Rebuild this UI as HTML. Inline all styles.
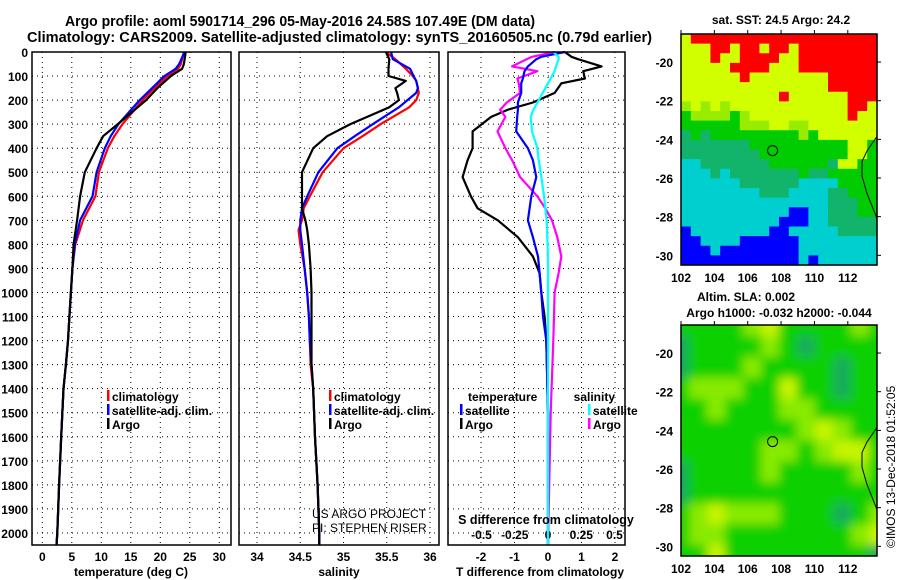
<!DOCTYPE html>
<html><head><meta charset="utf-8">
<style>
html,body{margin:0;padding:0;background:#fff;}
svg{display:block;font-family:"Liberation Sans",Arial,sans-serif;}
.t{font-weight:bold;font-size:14.5px;}
.k{font-weight:bold;font-size:12px;}
</style></head>
<body>
<svg id="c" width="900" height="580" viewBox="0 0 900 580" xmlns="http://www.w3.org/2000/svg">
<defs><filter id="bl" x="0" y="0" width="1" height="1"><feGaussianBlur stdDeviation="5"/></filter>
<clipPath id="cm2"><rect x="681" y="325" width="196" height="231"/></clipPath></defs>
<text class="t" x="65" y="26" textLength="470" lengthAdjust="spacingAndGlyphs">Argo profile: aoml 5901714_296 05-May-2016 24.58S 107.49E (DM data)</text>
<text class="t" x="27" y="42" textLength="625" lengthAdjust="spacingAndGlyphs">Climatology: CARS2009. Satellite-adjusted climatology: synTS_20160505.nc (0.79d earlier)</text>
<g id="g"></g>
</svg>
<script>
// ---- data ----
const depthT = [0,50,70,100,150,200,300,350,400,500,600,700,800,900,1000,1100,1200,1300,1400,1600,1800,2000,2050];
const tempArgo = [24.3,24.0,23.7,21.8,19.5,17.6,12.8,10.3,9.2,7.2,6.4,5.9,5.3,5.1,4.85,4.6,4.35,4.0,3.6,3.2,2.85,2.55,2.4];
const tempClim = [24.0,23.5,23.0,21.2,19.0,17.0,13.6,12.2,11.1,9.6,9.0,6.9,5.6,5.1,4.85,4.6,4.35,4.0,3.6,3.2,2.85,2.55,2.4];
const tempSat  = [24.1,23.2,22.6,20.7,18.6,16.5,12.9,11.6,10.6,9.2,8.5,6.4,5.5,5.1,4.85,4.6,4.35,4.0,3.6,3.2,2.85,2.55,2.4];
const depthS = [0,30,70,100,120,150,170,200,230,300,350,400,500,600,650,700,740,800,900,1000,1100,1200,1300,1400,1600,1800,2000,2050];
const salArgo = [35.49,35.53,35.52,35.52,35.72,35.60,35.62,35.64,35.53,35.08,34.81,34.65,34.52,34.52,34.52,34.56,34.58,34.60,34.62,34.63,34.63,34.63,34.63,34.65,34.67,34.70,34.72,34.72];
const salClim = [35.49,35.60,35.72,35.80,35.84,35.86,35.87,35.84,35.76,35.43,35.22,35.00,34.76,34.61,34.54,34.52,34.48,34.50,34.55,34.58,34.60,34.61,34.62,34.65,34.67,34.70,34.72,34.72];
const salSat  = [35.55,35.57,35.77,35.81,35.84,35.86,35.84,35.74,35.64,35.34,35.13,34.93,34.71,34.58,34.52,34.50,34.50,34.52,34.55,34.58,34.60,34.61,34.63,34.65,34.67,34.70,34.72,34.72];
const depthD = [0,20,30,60,80,110,130,170,210,240,270,330,400,450,520,600,650,700,770,850,920,1000,1100,1200,1500,2050];
const dTArgo = [0.5,0.7,0.9,1.6,1.05,1.1,0.4,0.2,-0.45,-1.2,-1.7,-2.25,-2.25,-2.4,-2.55,-2.3,-2.1,-1.5,-0.9,-0.45,-0.25,-0.2,-0.1,-0.05,0,0];
const dTSat  = [0.5,-0.2,-0.35,-0.6,-0.7,-0.75,-0.8,-0.8,-0.9,-0.9,-0.92,-0.95,-0.6,-0.45,-0.35,-0.5,-0.55,-0.6,-0.45,-0.3,-0.25,-0.2,-0.15,-0.05,0,0];
const dSArgo = [0.05,-0.12,-0.16,-0.27,-0.08,-0.23,-0.22,-0.21,-0.31,-0.36,-0.32,-0.38,-0.32,-0.27,-0.21,-0.08,-0.02,0.03,0.07,0.1,0.08,0.05,0.045,0.04,0.02,0];
const dSSat  = [0.04,0.08,0.08,0.06,0.05,0.02,0.0,-0.04,-0.08,-0.11,-0.13,-0.12,-0.08,-0.07,-0.05,-0.03,-0.02,-0.01,-0.005,0,0,0,0,0,0,0];
const depthTicks = [0,100,200,300,400,500,600,700,800,900,1000,1100,1200,1300,1400,1500,1600,1700,1800,1900,2000];
const tTicks = [0,5,10,15,20,25,30];
const sTicks = [34,34.5,35,35.5,36];
const dTTicks = [-2,-1,0,1,2];
const dSTicks = ["-0.5","-0.25","0","0.25","0.5"];
const dSTickVals = [-0.5,-0.25,0,0.25,0.5];
const sstRows = [
"YRRRRRRRRRRRRRRRRRRR","YYYRRYRRYRRYRRRRRRRR","YYYRYYRRRRYYRRRRRRRR","YYYYYRRRRYYYRRRRRRRR",
"YYYYYYRYYYYYYYYRRRRR","YYYYYYYYYYYYYYYRRRRR","YYYYYYYYYYRYYYYYYRRR","LYLYLYYYYYYYYYYYYRRY",
"GLLLLGLYYYYYYYYYYRYY","GGGGGGLLLYYLLYYYYYYY","DGDGGGGGGGGGLGYYYYYY","DDDDDDDGGGGGGGGGGYYG",
"DDDDDDDDGGGGGGGGGYYG","CCDDDDDDDGGGGGGDYYGG","CCCDCDDDDDDDGDDGGGGG","CCCCCCDDDDDDCCCCGGGG",
"CCCCCCCCDDDCCCCDDGGG","CCCCCCCCCCCCCCCDDDGG","CCCCCCCCCCCBBCCDDDGG","CCCCCCCCCCBBBCCDDDDD",
"BCCCCCCCCBBCCCCCDDDD","BBCCCCBBBBBBCCCCCCCC","BBBCBBBBBBBBCCCCCCCC","BBBBBBBBBBBBCBCCCCCC"];
const slaRows = [
[1,1,1,1,2,3,1,1,1,1,2,1],[0,1,1,1,1,2,1,0,1,1,1,1],[0,1,1,1,2,1,1,1,1,0,1,1],
[1,2,2,2,1,1,3,1,1,0,1,1],[1,1,2,1,1,1,2,2,1,1,1,1],[1,1,1,1,1,1,1,2,3,2,1,1],
[1,1,1,1,1,2,2,1,2,3,3,1],[0,1,1,1,1,2,1,1,1,1,2,1],[0,1,1,1,1,1,1,1,1,1,1,1],
[1,2,3,2,2,2,1,1,1,0,1,2],[1,2,2,1,1,1,1,1,1,1,2,3],[1,1,3,1,1,1,1,1,1,1,1,0]];
const latTicks = [-20,-22,-24,-26,-28,-30];
const lonTicks = [102,104,106,108,110,112];
const argoLon = 107.49, argoLat = -24.58;

// ---- geometry ----
const NS="http://www.w3.org/2000/svg";
const G=document.getElementById('g');
function el(tag,attrs,parent){const e=document.createElementNS(NS,tag);for(const k in attrs)e.setAttribute(k,attrs[k]);(parent||G).appendChild(e);return e;}
const top0=52, bot=545;
const yD=d=>top0+d*(493/2050);
const xT=v=>42.3+v*5.9;
const xS=v=>257+(v-34)*86.5;
const xDT=v=>548+v*33.5;
const xDS=v=>548+v*133;
const panels=[[32,231],[239,439],[448,625]];
panels.forEach((p,i)=>{
  const ticks = i==0?tTicks.map(xT):i==1?sTicks.map(xS):dTTicks.map(xDT);
  ticks.forEach(x=>{const l=el('line',{x1:x,x2:x,y1:top0,y2:bot,stroke:'#000','stroke-width':1,'stroke-dasharray':'1,4'});
    });
  depthTicks.forEach(d=>{const l=el('line',{x1:p[0],x2:p[1],y1:yD(d),y2:yD(d),stroke:'#000','stroke-width':1,'stroke-dasharray':'1,4'});
    });
});
depthTicks.forEach(d=>{const t=el('text',{x:28,y:yD(d)+5,'text-anchor':'end',class:'k'});t.textContent=d;
  });
function xlabels(vals,labels,fx,y,name){vals.forEach((v,i)=>{const t=el('text',{x:fx(v),y:y,'text-anchor':'middle',class:'k'});t.textContent=labels[i];
  });}
xlabels(tTicks,tTicks,xT,561,'temperature-tick-label');
xlabels(sTicks,sTicks,xS,561,'salinity-tick-label');
xlabels(dTTicks,dTTicks,xDT,561,'t-diff-tick-label');
xlabels(dSTickVals,dSTicks,xDS,539,'s-diff-tick-label');
function line(xs,ds,fx,color,name,w){const pts=xs.map((v,i)=>fx(v).toFixed(1)+','+yD(ds[i]).toFixed(1)).join(' ');
  const l=el('polyline',{points:pts,fill:'none',stroke:color,'stroke-width':w||2.2,'stroke-linejoin':'round'});
  }
line(tempClim,depthT,xT,'#f00','temperature-climatology-line');
line(tempSat,depthT,xT,'#00f','temperature-satellite-line');
line(tempArgo,depthT,xT,'#000','temperature-argo-line');
line(salClim,depthS,xS,'#f00','salinity-climatology-line');
line(salSat,depthS,xS,'#00f','salinity-satellite-line');
line(salArgo,depthS,xS,'#000','salinity-argo-line');
line(dTArgo,depthD,xDT,'#000','t-diff-argo-line');
line(dSArgo,depthD,xDS,'#f0f','s-diff-argo-line');
line(dTSat,depthD,xDT,'#00f','t-diff-satellite-line');
line(dSSat,depthD,xDS,'#0ff','s-diff-satellite-line');
panels.forEach(p=>{const r=el('rect',{x:p[0],y:top0,width:p[1]-p[0],height:bot-top0,fill:'none',stroke:'#000','stroke-width':1.5});
  });
function txt(x,y,s,name,extra){const t=el('text',Object.assign({x:x,y:y,class:'k'},extra||{}));t.textContent=s;
  return t;}
function leg(x,y,c,s,name){const r=el('rect',{x:x,y:y-11,width:2.5,height:11,fill:c});
  txt(x+5,y,s,name);}
leg(107,401,'#f00','climatology','legend-temp-climatology');
leg(107,415,'#00f','satellite-adj. clim.','legend-temp-satellite');
leg(107,429,'#000','Argo','legend-temp-argo');
leg(329,401,'#f00','climatology','legend-sal-climatology');
leg(329,415,'#00f','satellite-adj. clim.','legend-sal-satellite');
leg(329,429,'#000','Argo','legend-sal-argo');
txt(468,401,'temperature','legend-diff-temperature-heading');
txt(615,401,'salinity','legend-diff-salinity-heading',{'text-anchor':'end'});
leg(460,415,'#00f','satellite','legend-diff-t-satellite');
leg(460,429,'#000','Argo','legend-diff-t-argo');
leg(588,415,'#0ff','satellite','legend-diff-s-satellite');
leg(588,429,'#f0f','Argo','legend-diff-s-argo');
txt(312,518,'US ARGO PROJECT','project-credit',{style:'font-weight:normal;font-size:12px'});
txt(312,532,'PI: STEPHEN RISER','pi-credit',{style:'font-weight:normal;font-size:12px'});
txt(546,524,'S difference from climatology','s-diff-axis-title',{'text-anchor':'middle',style:'font-size:12.5px;font-weight:bold'});
txt(131,576,'temperature (deg C)','temperature-axis-title',{'text-anchor':'middle'});
txt(339,576,'salinity','salinity-axis-title',{'text-anchor':'middle'});
txt(540,576,'T difference from climatology','t-diff-axis-title',{'text-anchor':'middle'});

// ---- maps ----
const mL=681,mR=877,lat0=-18.55,lat1=-30.5,lon0=102,lon1=113.75;
const mx=lon=>mL+(lon-lon0)*(mR-mL)/(lon1-lon0);
function my(lat,top){return top+(lat0-lat)*231/(lat0-lat1);}
const sstCol={R:'#ff0000',Y:'#d2ff00',L:'#98ec00',G:'#00cc00',D:'#12b46c',C:'#00cfcf',B:'#0000ff'};
const T1=34,T2=325;
const nr=sstRows.length,nc=sstRows[0].length,cw=(mR-mL)/nc,ch=231/nr;
sstRows.forEach((row,r)=>{[...row].forEach((k,c)=>{const e=el('rect',{x:mL+c*cw,y:T1+r*ch,width:cw+0.6,height:ch+0.6,fill:sstCol[k]});
  });});
const slaCol=['#12ac5c','#10d000','#88ea00','#c6f400'];
const sg=el('g',{'clip-path':'url(#cm2)'});
const sg2=el('g',{filter:'url(#bl)'},sg);
const nr2=slaRows.length,nc2=slaRows[0].length,cw2=(mR-mL+20)/nc2,ch2=(231+20)/nr2;
slaRows.forEach((row,r)=>row.forEach((v,c)=>{const e=el('rect',{x:mL-10+c*cw2,y:T2-10+r*ch2,width:cw2+0.6,height:ch2+0.6,fill:slaCol[v]},sg2);
  }));
[T1,T2].forEach((T,i)=>{
  const coast=[[113.75,-23.85],[113.15,-24.6],[112.85,-25.15],[112.85,-25.9],[113.15,-26.8],[113.75,-28.1]];
  const c=el('polyline',{points:coast.map(p=>mx(p[0])+','+my(p[1],T)).join(' '),fill:'none',stroke:'#000','stroke-width':1});
  
  const a=el('circle',{cx:mx(argoLon),cy:my(argoLat,T),r:5,fill:'none',stroke:'#000','stroke-width':1});
  
  const f=el('rect',{x:mL,y:T,width:mR-mL,height:231,fill:'none',stroke:'#000','stroke-width':1.5});
  
  latTicks.forEach(l=>{txt(673,my(l,T)+5,l,'latitude-tick-label',{'text-anchor':'end'});
    el('line',{x1:mR,x2:mR+4,y1:my(l,T),y2:my(l,T),stroke:'#000'});});
  lonTicks.forEach(l=>{txt(mx(l),T+231+17,l,'longitude-tick-label',{'text-anchor':'middle'});
    el('line',{x1:mx(l),x2:mx(l),y1:T-4,y2:T,stroke:'#000'});});
});
txt(781,24,'sat. SST: 24.5 Argo: 24.2','sst-map-title',{'text-anchor':'middle'});
txt(746,301,'Altim. SLA: 0.002','sla-map-title',{'text-anchor':'middle'});
txt(779,317,'Argo h1000: -0.032 h2000: -0.044','sla-map-subtitle',{'text-anchor':'middle'});
txt(0,0,'©IMOS 13-Dec-2018 01:52:05','timestamp-credit',{transform:'translate(895,548) rotate(-90)',style:'font-weight:normal;font-size:12px'});
</script>
</body></html>
